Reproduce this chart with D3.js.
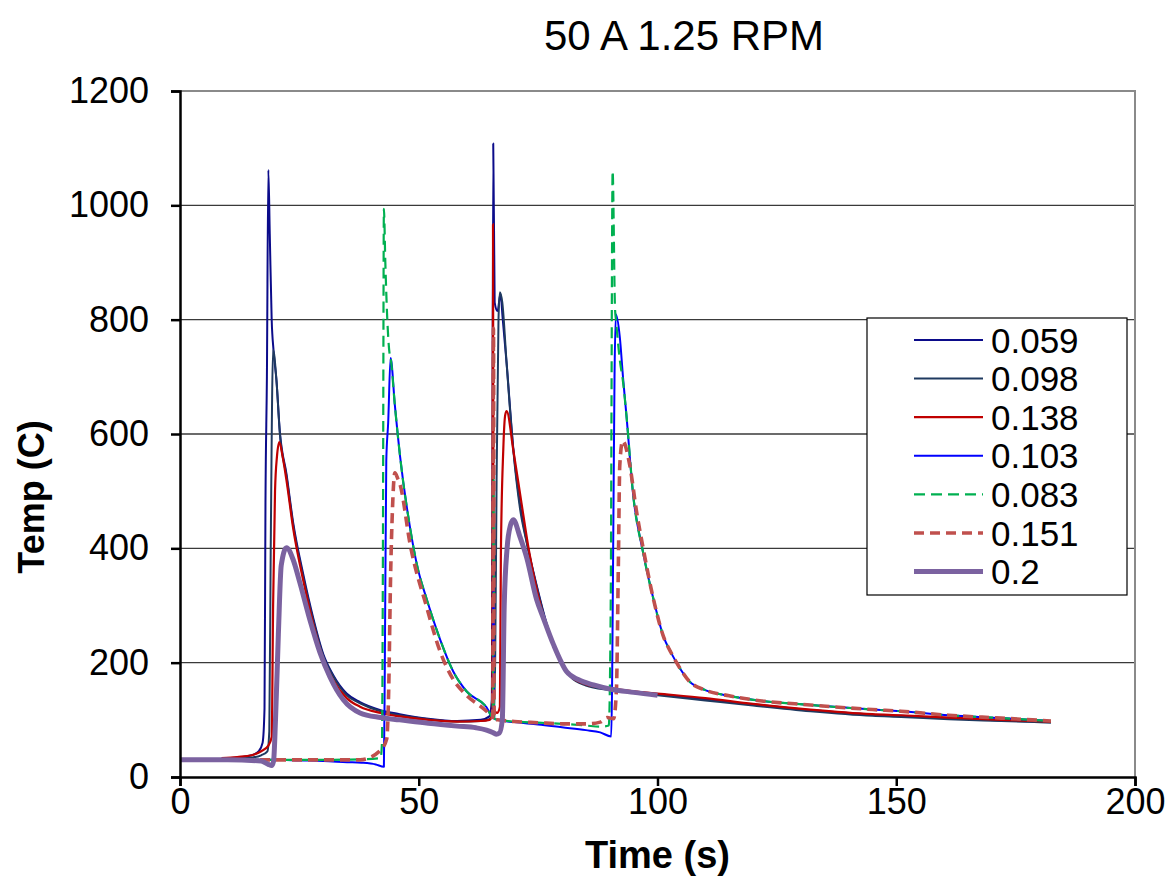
<!DOCTYPE html>
<html>
<head>
<meta charset="utf-8">
<script src="https://cdn.jsdelivr.net/npm/d3@7"></script>
<style>
  body { margin: 0; background: #fff; }
  svg { display: block; font-family: "Liberation Sans", Arial, sans-serif; }
</style>
</head>
<body>
<svg></svg>
<script>
// SERIES NAMES (legend order = draw order)
let seriesNames = ['0.059', '0.098', '0.138', '0.103', '0.083', '0.151', '0.2']

// TICKS
let xTicks = [0, 50, 100, 150, 200]
let yTicks = [0, 200, 400, 600, 800, 1000, 1200]

// 0.059
let t059 = [8.7, 12, 15, 16.5, 17.3, 17.7, 17.9, 18.2, 18.5, 18.8, 19.2, 19.6, 20.2, 20.9, 22.3, 23.7, 25.8, 27.9, 30, 32.1, 34.9, 37.7, 42, 46, 52, 58, 63, 64.8, 65.3, 65.6, 65.9, 66.5, 67.1, 67.6, 68.4, 69.8, 71.2, 72.6, 74.7, 76.8, 78.9, 81.7, 85, 90, 95, 100, 110, 120, 132, 145, 151, 161, 172, 182.4]
let v059 = [32, 34, 38, 45, 60, 120, 480, 700, 1062, 950, 800, 745, 694, 605, 530, 445, 355, 278, 215, 178, 146, 131, 117, 110, 102, 98, 100, 106, 135, 1108, 830, 815, 845, 800, 724, 575, 478, 412, 335, 268, 218, 178, 162, 154, 149, 145, 136, 127, 117, 109, 107, 103, 99, 96]

// 0.098
let t098 = [8.7, 12, 15, 17, 18.3, 18.7, 19.0, 19.5, 20.2, 20.9, 22.3, 23.7, 25.8, 27.9, 30, 32.1, 34.9, 37.7, 42, 46, 52, 58, 63, 64.8, 65.6, 66.0, 66.3, 66.7, 67.0, 67.5, 68.4, 69.8, 71.2, 72.6, 74.7, 76.8, 78.9, 81.7, 85, 90, 95, 100, 110, 120, 132, 145, 151, 161, 172, 182.4]
let v098 = [31, 32, 34, 38, 45, 80, 400, 747, 694, 602, 526, 440, 350, 274, 212, 176, 143, 129, 115, 108, 101, 97, 98, 101, 108, 200, 520, 800, 848, 830, 724, 572, 470, 410, 333, 266, 216, 176, 160, 152, 147, 143, 134, 125, 115, 107, 105, 101, 98, 95]

// 0.138
let t138 = [8.7, 12, 15, 17, 18.5, 19.2, 19.5, 19.9, 20.3, 20.8, 21.5, 22.3, 23.7, 25.8, 27.9, 30, 32.1, 34.9, 37.7, 42, 46, 52, 58, 63, 64.8, 65.4, 65.55, 65.7, 66.4, 67.0, 67.2, 67.7, 68.1, 68.4, 69.8, 71.5, 73, 74.7, 76.8, 78.9, 81.7, 85, 90, 95, 100, 110, 120, 132, 145, 151, 161, 172, 182.4]
let v138 = [33, 35, 38, 45, 55, 70, 300, 500, 560, 586, 560, 519, 435, 344, 268, 207, 169, 138, 123, 112, 106, 100, 97, 98, 100, 110, 967, 120, 112, 123, 389, 572, 633, 640, 572, 480, 400, 328, 262, 215, 177, 162, 155, 150, 146, 138, 128, 118, 110, 108, 104, 100, 97]

// 0.103
let t103 = [0, 10, 20, 25, 30, 35, 38, 41, 42.7, 42.9, 43.2, 43.6, 44.1, 45.0, 46.1, 48.2, 49.6, 51.7, 54.5, 57.2, 60, 64.2, 65.5, 65.65, 65.8, 66.5, 70, 75, 80, 85, 88, 90.3, 90.8, 91.0, 91.3, 92.1, 92.8, 93.5, 94.9, 97, 99.1, 101.2, 103, 104, 106.7, 110, 115, 120, 132, 145, 151, 161, 172, 182.4]
let v103 = [30, 30, 30, 29, 28, 26, 25, 22, 18, 200, 553, 620, 733, 650, 560, 435, 372, 310, 240, 185, 150, 122, 105, 420, 102, 100, 96, 92, 87, 82, 78, 71, 487, 700, 809, 770, 697, 632, 494, 392, 313, 247, 215, 200, 167, 152, 142, 135, 126, 118, 115, 108, 103, 98]

// 0.083
let t083 = [0, 10, 20, 30, 38, 42, 42.3, 42.5, 42.7, 43.0, 43.4, 43.9, 44.1, 45.0, 46.1, 48.2, 49.6, 51.7, 54.5, 57.2, 60, 64.2, 65.5, 65.65, 65.8, 66.5, 70, 75, 80, 85, 88, 89.8, 90.2, 90.6, 91.1, 91.3, 92.1, 92.8, 93.5, 94.9, 97, 99.1, 101.2, 103, 104, 106.7, 110, 115, 120, 132, 145, 151, 161, 172, 182.4]
let v083 = [30, 30, 30, 30, 31, 33, 60, 400, 994, 900, 803, 740, 733, 650, 560, 435, 372, 310, 240, 185, 150, 122, 105, 520, 102, 100, 97, 95, 93, 90, 88, 90, 300, 1060, 820, 800, 730, 690, 632, 494, 392, 313, 247, 215, 200, 167, 152, 142, 135, 126, 118, 115, 108, 103, 98]

// 0.151
let t151 = [0, 10, 20, 30, 37.7, 41.9, 43.3, 43.7, 44.1, 44.5, 45.0, 45.6, 46.1, 48.2, 51.7, 54.5, 57.2, 60, 64.2, 65.5, 65.65, 65.8, 66.5, 70, 75, 80, 85.3, 88, 89.5, 90.8, 91.4, 91.8, 92.1, 92.7, 94.2, 95.6, 97, 99.1, 101.2, 103, 104, 106.7, 110, 115, 120, 132, 145, 151, 161, 172, 182.4]
let v151 = [30, 30, 30, 30, 30, 46, 67, 150, 350, 470, 532, 522, 511, 407, 296, 219, 171, 143, 115, 104, 785, 101, 100, 97, 95, 93, 93, 96, 104, 102, 153, 370, 545, 588, 545, 465, 400, 313, 247, 215, 200, 167, 152, 142, 135, 126, 118, 115, 108, 103, 98]

// 0.2
let t200 = [0, 10, 17, 18.5, 19.2, 19.6, 20.0, 20.6, 21.2, 22.3, 23.7, 25.1, 27.2, 29.3, 31.4, 34.2, 37.7, 42, 46, 52, 58, 62, 64.2, 65.5, 66.2, 66.9, 67.5, 67.9, 68.5, 69.2, 69.8, 71.2, 72.6, 74.7, 76.1, 78.2, 81, 83.5, 86.6, 90, 95, 100]
let v200 = [30, 30, 28, 22, 20, 28, 100, 250, 370, 401, 380, 340, 275, 218, 175, 135, 112, 104, 100, 94, 89, 86, 82, 78, 75, 77, 100, 300, 400, 440, 450, 420, 384, 310, 278, 232, 184, 170, 161, 154, 148, 143]

let times = [t059, t098, t138, t103, t083, t151, t200]
let temps = [v059, v098, v138, v103, v083, v151, v200]

// LINE STYLES
let styles = {
    '0.059': {color: '#0b0b8a', width: 2, dash: null},
    '0.098': {color: '#1f3a60', width: 2, dash: null},
    '0.138': {color: '#c00000', width: 2.2, dash: null},
    '0.103': {color: '#0000ff', width: 2, dash: null},
    '0.083': {color: '#00b050', width: 2.2, dash: '11,6'},
    '0.151': {color: '#c0504d', width: 3.6, dash: '10,6'},
    '0.2':   {color: '#7b62a0', width: 5, dash: null}
}

let svgWidth = 1169,
    svgHeight = 882,
    margin = {left: 180, top: 91, right: 34, bottom: 105},
    width = svgWidth - margin.left - margin.right,
    height = svgHeight - margin.top - margin.bottom

let svg = d3.select('svg')
    .attr('width', svgWidth)
    .attr('height', svgHeight)

let series = seriesNames.map((name, i) => ({
    name: name,
    points: times[i].map((t, j) => ({t: t, v: temps[i][j]}))
}))

let x = d3.scaleLinear().domain([0, 200]).range([0, width])
let y = d3.scaleLinear().domain([0, 1200]).range([height, 0])

let g = svg.append('g')
    .attr('transform', `translate(${margin.left}, ${margin.top})`)

// GRIDLINES
g.append('g')
    .selectAll('line')
    .data(yTicks.filter(d => d > 0 && d < 1200))
    .enter()
    .append('line')
    .attr('x1', 0)
    .attr('x2', width)
    .attr('y1', d => y(d))
    .attr('y2', d => y(d))
    .attr('stroke', '#3a3a3a')
    .attr('stroke-width', 1.4)

// TOP + RIGHT BORDER
g.append('path')
    .attr('d', `M0,${y(1200)}H${width}V${height}`)
    .attr('fill', 'none')
    .attr('stroke', '#8a8a8a')
    .attr('stroke-width', 2)

g.append('clipPath')
    .attr('id', 'clip')
    .append('rect')
    .attr('width', width)
    .attr('height', height)

// monotone curve keeps the spikes sharp without overshoot
let line = d3.line()
    .curve(d3.curveMonotoneX)
    .x(d => x(d.t))
    .y(d => y(d.v))

g.append('g')
    .attr('clip-path', 'url(#clip)')
    .selectAll('path')
    .data(series)
    .enter()
    .append('path')
    .attr('d', d => line(d.points))
    .attr('fill', 'none')
    .attr('stroke', d => styles[d.name].color)
    .attr('stroke-width', d => styles[d.name].width)
    .attr('stroke-dasharray', d => styles[d.name].dash)
    .attr('stroke-linejoin', 'round')

// AXES
let xAxis = g.append('g')
    .attr('transform', `translate(0, ${height})`)
    .call(d3.axisBottom(x).tickValues(xTicks).tickSize(9).tickPadding(2).tickFormat(d3.format('d')))

let yAxis = g.append('g')
    .call(d3.axisLeft(y).tickValues(yTicks).tickSize(9).tickPadding(22).tickFormat(d3.format('d')))

;[xAxis, yAxis].forEach(a => {
    a.select('.domain').attr('stroke', '#000').attr('stroke-width', 2.5)
    a.selectAll('.tick line').attr('stroke', '#000').attr('stroke-width', 2.5)
    a.selectAll('.tick text')
        .attr('font-size', 36)
        .attr('font-family', '"Liberation Sans", Arial, sans-serif')
        .attr('fill', '#000')
})

// TITLES
svg.append('text')
    .attr('x', 684)
    .attr('y', 50)
    .attr('text-anchor', 'middle')
    .attr('font-size', 42)
    .text('50 A 1.25 RPM')

svg.append('text')
    .attr('x', margin.left + width / 2)
    .attr('y', 868)
    .attr('text-anchor', 'middle')
    .attr('font-size', 38)
    .attr('font-weight', 'bold')
    .text('Time (s)')

svg.append('text')
    .attr('transform', 'translate(44, 497) rotate(-90)')
    .attr('text-anchor', 'middle')
    .attr('font-size', 36)
    .attr('font-weight', 'bold')
    .text('Temp (C)')

// LEGEND
let legend = svg.append('g')
    .attr('transform', 'translate(867, 318)')

legend.append('rect')
    .attr('width', 260)
    .attr('height', 277)
    .attr('fill', '#fff')
    .attr('stroke', '#000')
    .attr('stroke-width', 1.2)

let item = legend.selectAll('.item')
    .data(series)
    .enter()
    .append('g')
    .attr('transform', (d, i) => `translate(0, ${22 + i * 38.6})`)

item.append('line')
    .attr('x1', 47)
    .attr('x2', 116)
    .attr('stroke', d => styles[d.name].color)
    .attr('stroke-width', d => styles[d.name].width)
    .attr('stroke-dasharray', d => styles[d.name].dash)

item.append('text')
    .attr('x', 124)
    .attr('dy', '0.36em')
    .attr('font-size', 35)
    .text(d => d.name)
</script>
</body>
</html>
